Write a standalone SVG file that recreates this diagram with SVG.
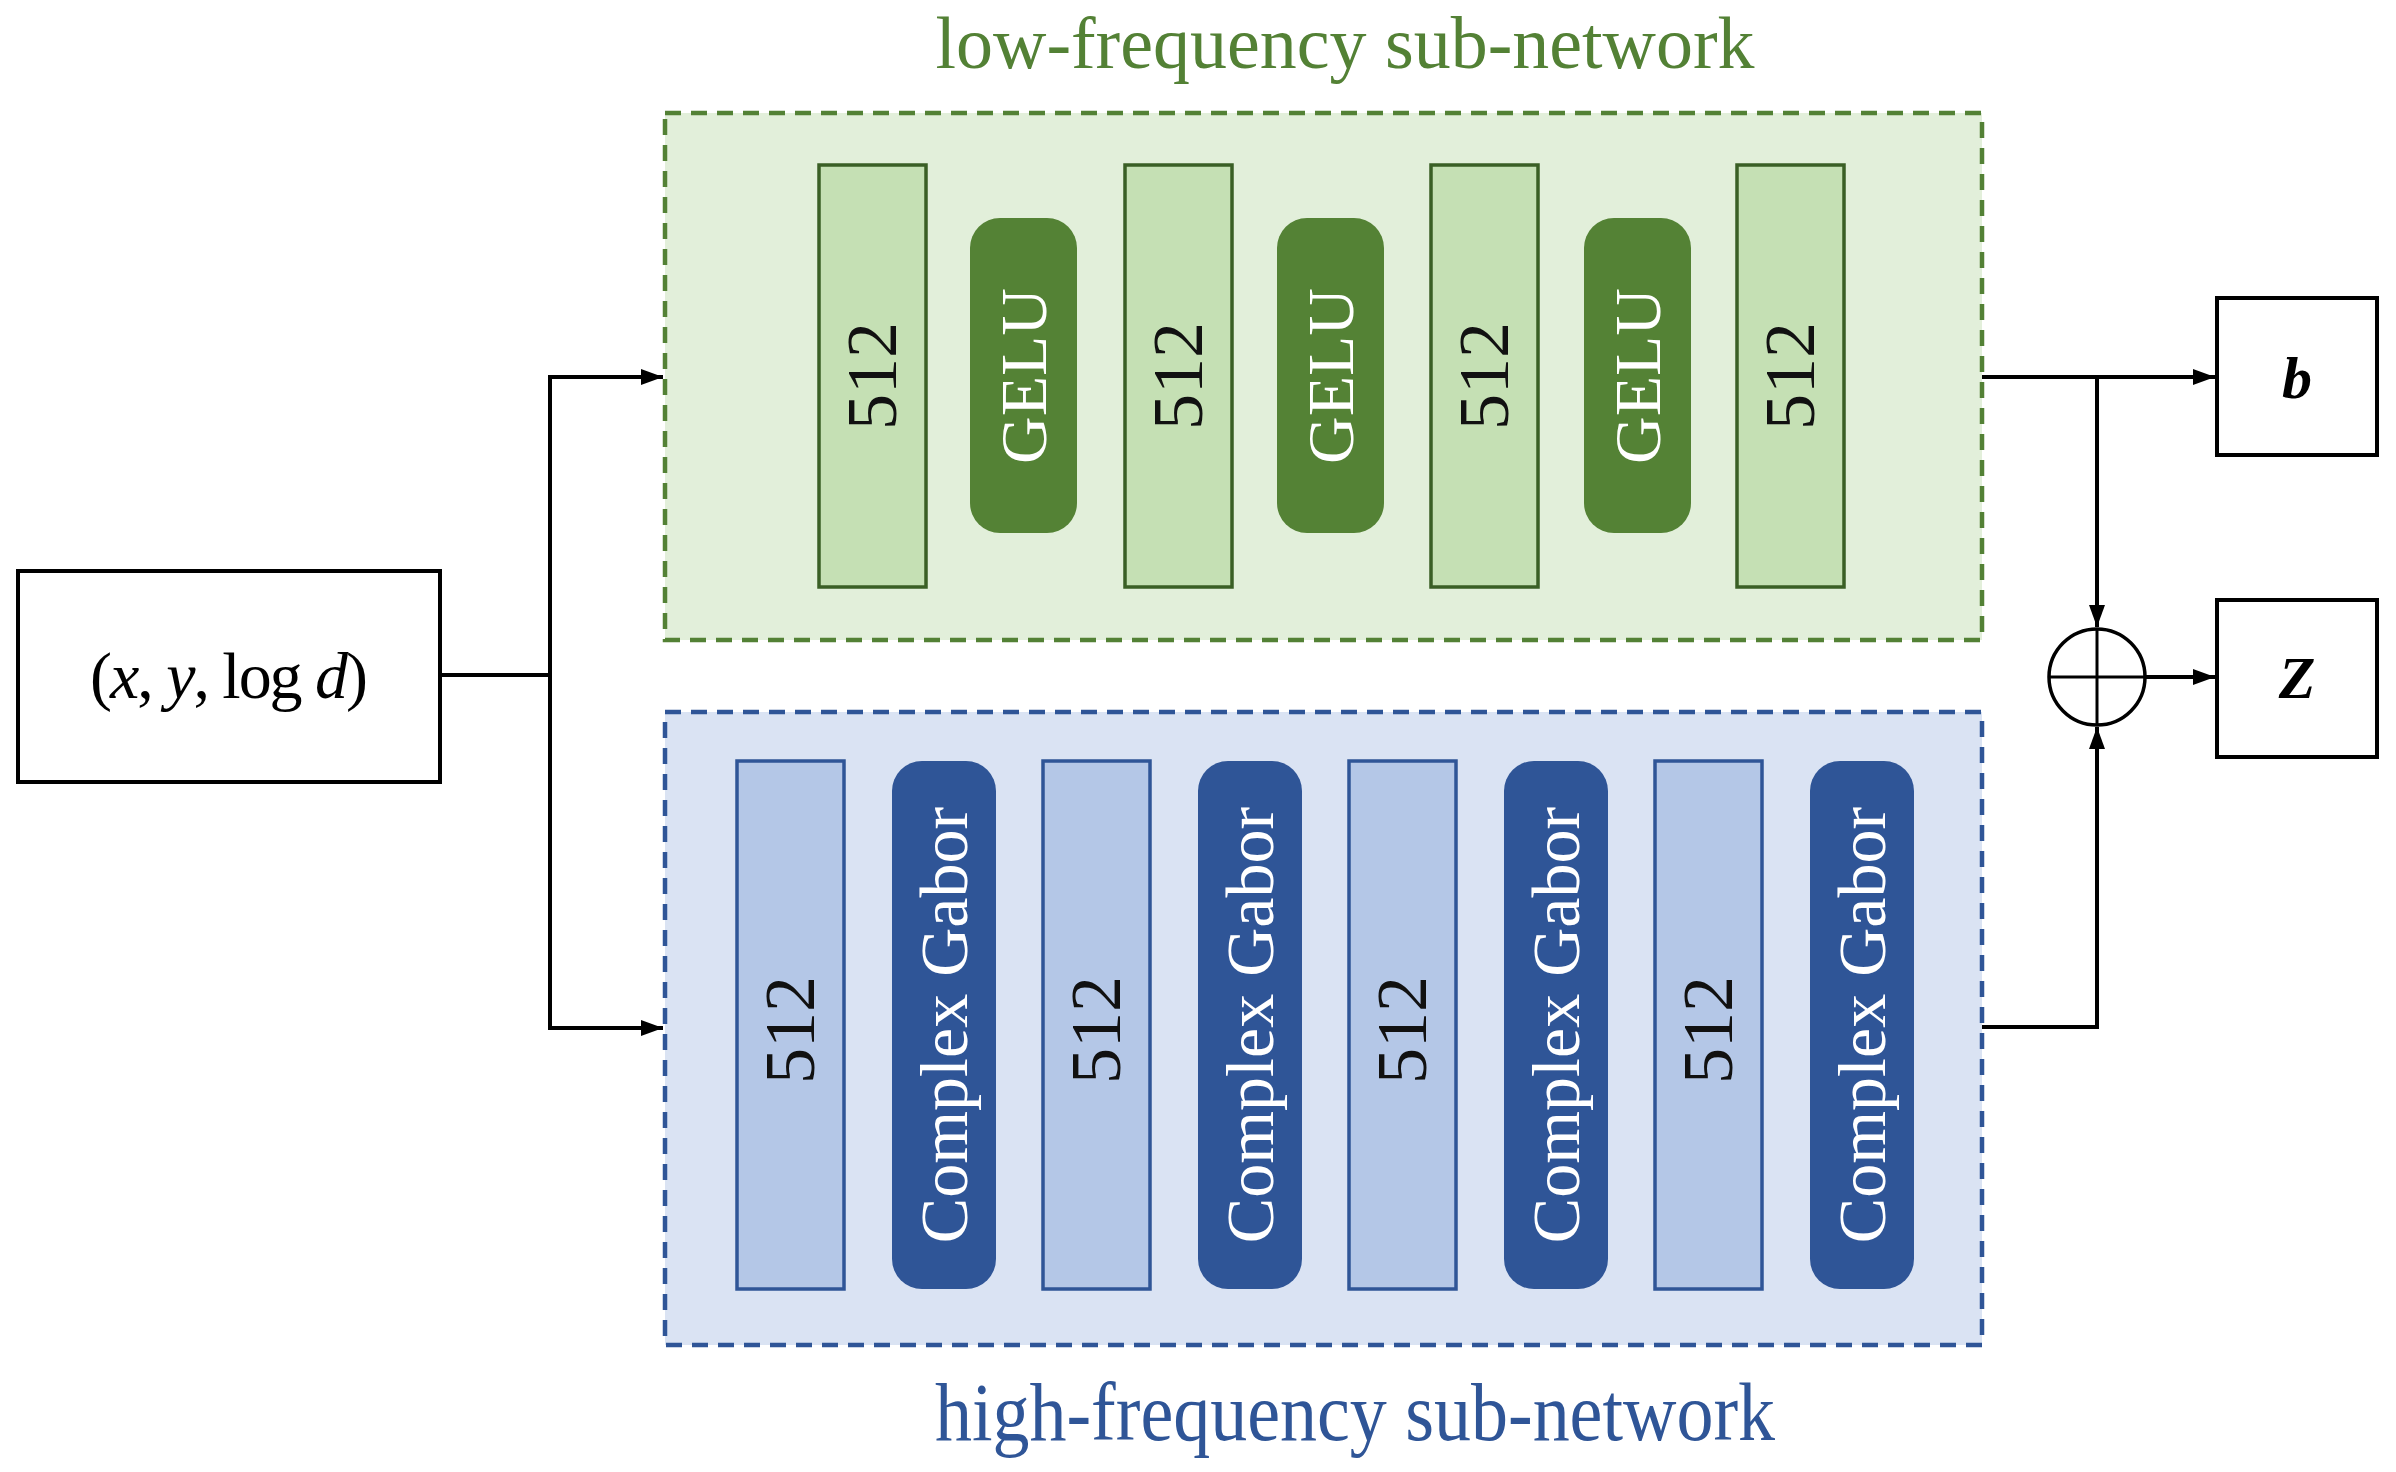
<svg xmlns="http://www.w3.org/2000/svg" width="2396" height="1472" viewBox="0 0 2396 1472">
<style>
.serif{font-family:"Liberation Serif","DejaVu Serif",serif}
.gfrm{fill:#E2EFDA;stroke:#538135;stroke-width:4.5;stroke-dasharray:16 10}
.bfrm{fill:#DAE3F3;stroke:#2F5597;stroke-width:4.5;stroke-dasharray:16 10}
.grect{fill:#C5E0B4;stroke:#3A5F25;stroke-width:3.5}
.brect{fill:#B4C7E7;stroke:#2F5597;stroke-width:3.5}
.gpill{fill:#548235}
.bpill{fill:#2F5597}
.lbl{font-family:"Liberation Serif","DejaVu Serif",serif;font-size:72px;text-anchor:middle;dominant-baseline:central}
.dark{fill:#111}
.light{fill:#fff}
.box{fill:#fff;stroke:#000;stroke-width:4}
.wire{fill:none;stroke:#000;stroke-width:4}
</style>
<defs>
<marker id="arr" markerUnits="userSpaceOnUse" markerWidth="24" markerHeight="18" refX="22" refY="8" orient="auto">
<path d="M0,0 L22,8 L0,16 z" fill="#000"/>
</marker>
</defs>
<rect width="2396" height="1472" fill="#fff"/>

<text class="serif" x="1345" y="68" font-size="74" fill="#538135" text-anchor="middle" textLength="819" lengthAdjust="spacingAndGlyphs">low-frequency sub-network</text>
<text class="serif" x="1355" y="1440" font-size="82" fill="#2F5597" text-anchor="middle" textLength="840" lengthAdjust="spacingAndGlyphs">high-frequency sub-network</text>

<g id="low-net">
<rect class="gfrm" x="665" y="113" width="1317" height="527"/>
<g id="low-l1"><rect class="grect" x="819" y="165" width="107" height="422"/><text class="lbl dark" transform="translate(872,376) rotate(-90)">512</text></g>
<g id="low-a1"><rect class="gpill" x="970" y="218" width="107" height="315" rx="30"/><text class="lbl light" transform="translate(1023,376) rotate(-90)" style="font-size:66px">GELU</text></g>
<g id="low-l2"><rect class="grect" x="1125" y="165" width="107" height="422"/><text class="lbl dark" transform="translate(1178,376) rotate(-90)">512</text></g>
<g id="low-a2"><rect class="gpill" x="1277" y="218" width="107" height="315" rx="30"/><text class="lbl light" transform="translate(1330,376) rotate(-90)" style="font-size:66px">GELU</text></g>
<g id="low-l3"><rect class="grect" x="1431" y="165" width="107" height="422"/><text class="lbl dark" transform="translate(1484,376) rotate(-90)">512</text></g>
<g id="low-a3"><rect class="gpill" x="1584" y="218" width="107" height="315" rx="30"/><text class="lbl light" transform="translate(1637,376) rotate(-90)" style="font-size:66px">GELU</text></g>
<g id="low-l4"><rect class="grect" x="1737" y="165" width="107" height="422"/><text class="lbl dark" transform="translate(1790,376) rotate(-90)">512</text></g>
</g>

<g id="high-net">
<rect class="bfrm" x="665" y="712" width="1317" height="633"/>
<g id="high-l1"><rect class="brect" x="737" y="761" width="107" height="528"/><text class="lbl dark" transform="translate(790,1030) rotate(-90)">512</text></g>
<g id="high-a1"><rect class="bpill" x="892" y="761" width="104" height="528" rx="30"/><text class="lbl light" transform="translate(944,1025) rotate(-90)" style="font-size:68px">Complex Gabor</text></g>
<g id="high-l2"><rect class="brect" x="1043" y="761" width="107" height="528"/><text class="lbl dark" transform="translate(1096,1030) rotate(-90)">512</text></g>
<g id="high-a2"><rect class="bpill" x="1198" y="761" width="104" height="528" rx="30"/><text class="lbl light" transform="translate(1250,1025) rotate(-90)" style="font-size:68px">Complex Gabor</text></g>
<g id="high-l3"><rect class="brect" x="1349" y="761" width="107" height="528"/><text class="lbl dark" transform="translate(1402,1030) rotate(-90)">512</text></g>
<g id="high-a3"><rect class="bpill" x="1504" y="761" width="104" height="528" rx="30"/><text class="lbl light" transform="translate(1556,1025) rotate(-90)" style="font-size:68px">Complex Gabor</text></g>
<g id="high-l4"><rect class="brect" x="1655" y="761" width="107" height="528"/><text class="lbl dark" transform="translate(1708,1030) rotate(-90)">512</text></g>
<g id="high-a4"><rect class="bpill" x="1810" y="761" width="104" height="528" rx="30"/><text class="lbl light" transform="translate(1862,1025) rotate(-90)" style="font-size:68px">Complex Gabor</text></g>
</g>

<g id="input">
<rect class="box" x="18" y="571" width="422" height="211"/>
<text class="serif" x="229" y="698" font-size="66" fill="#000" text-anchor="middle" textLength="278" lengthAdjust="spacing">(<tspan font-style="italic">x</tspan>, <tspan font-style="italic">y</tspan>, log <tspan font-style="italic">d</tspan>)</text>
</g>

<g id="out-b">
<rect class="box" x="2217" y="298" width="160" height="157"/>
<text class="serif" x="2297" y="398" font-size="60" font-weight="bold" font-style="italic" text-anchor="middle">b</text>
</g>
<g id="out-z">
<rect class="box" x="2217" y="600" width="160" height="157"/>
<text class="serif" x="2297" y="698" font-size="60" font-weight="bold" font-style="italic" text-anchor="middle">Z</text>
</g>

<g id="sum">
<circle cx="2097" cy="677" r="48" fill="#fff" stroke="#000" stroke-width="3.5"/>
<line x1="2049" y1="677" x2="2145" y2="677" stroke="#000" stroke-width="3"/>
<line x1="2097" y1="629" x2="2097" y2="725" stroke="#000" stroke-width="3"/>
</g>

<g id="connectors">
<polyline class="wire" points="440,675 550,675"/>
<polyline class="wire" points="550,375 550,1028 663,1028" marker-end="url(#arr)"/>
<polyline class="wire" points="550,377 663,377" marker-end="url(#arr)"/>
<polyline class="wire" points="1982,377 2215,377" marker-end="url(#arr)"/>
<polyline class="wire" points="2097,377 2097,627" marker-end="url(#arr)"/>
<polyline class="wire" points="1982,1027 2097,1027 2097,727" marker-end="url(#arr)"/>
<polyline class="wire" points="2145,677 2215,677" marker-end="url(#arr)"/>
</g>
</svg>
